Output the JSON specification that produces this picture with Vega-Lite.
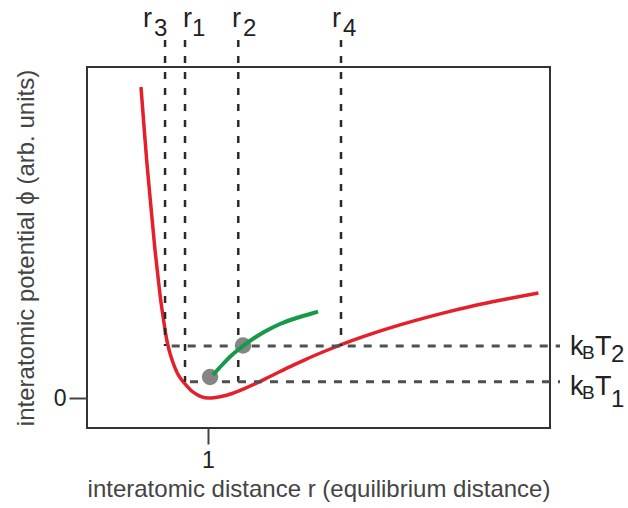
{
  "$schema": "https://vega.github.io/schema/vega-lite/v6.json",
  "width": 463,
  "height": 361,
  "autosize": {"type": "none"},
  "padding": {"left": 87, "top": 67, "right": 78, "bottom": 80},
  "background": "white",
  "config": {
    "view": {"stroke": "#333333", "strokeWidth": 2},
    "font": "Liberation Sans",
    "axis": {
      "grid": false,
      "domain": false,
      "tickColor": "#444444",
      "tickWidth": 2,
      "labelColor": "#222222",
      "labelFont": "Liberation Sans",
      "labelFontSize": 23,
      "titleColor": "#444444",
      "titleFont": "Liberation Sans",
      "titleFontSize": 24,
      "titleFontWeight": "normal"
    }
  },
  "datasets": {
    "curves": [
      {"series": "potential", "r": 0.446, "phi": 3.11},
      {"series": "potential", "r": 0.469, "phi": 2.75},
      {"series": "potential", "r": 0.493, "phi": 2.38},
      {"series": "potential", "r": 0.527, "phi": 1.93},
      {"series": "potential", "r": 0.562, "phi": 1.48},
      {"series": "potential", "r": 0.585, "phi": 1.23},
      {"series": "potential", "r": 0.609, "phi": 0.98},
      {"series": "potential", "r": 0.631, "phi": 0.795},
      {"series": "potential", "r": 0.649, "phi": 0.65},
      {"series": "potential", "r": 0.668, "phi": 0.53},
      {"series": "potential", "r": 0.69, "phi": 0.43},
      {"series": "potential", "r": 0.715, "phi": 0.34},
      {"series": "potential", "r": 0.746, "phi": 0.25},
      {"series": "potential", "r": 0.783, "phi": 0.18},
      {"series": "potential", "r": 0.822, "phi": 0.125},
      {"series": "potential", "r": 0.865, "phi": 0.07},
      {"series": "potential", "r": 0.907, "phi": 0.035},
      {"series": "potential", "r": 0.948, "phi": 0.012},
      {"series": "potential", "r": 1.0, "phi": 0.0},
      {"series": "potential", "r": 1.05, "phi": 0.003},
      {"series": "potential", "r": 1.1, "phi": 0.012},
      {"series": "potential", "r": 1.2, "phi": 0.045},
      {"series": "potential", "r": 1.3, "phi": 0.093},
      {"series": "potential", "r": 1.4, "phi": 0.148},
      {"series": "potential", "r": 1.5, "phi": 0.207},
      {"series": "potential", "r": 1.6, "phi": 0.267},
      {"series": "potential", "r": 1.7, "phi": 0.326},
      {"series": "potential", "r": 1.8, "phi": 0.382},
      {"series": "potential", "r": 1.9, "phi": 0.435},
      {"series": "potential", "r": 2.0, "phi": 0.485},
      {"series": "potential", "r": 2.2, "phi": 0.578},
      {"series": "potential", "r": 2.4, "phi": 0.661},
      {"series": "potential", "r": 2.6, "phi": 0.736},
      {"series": "potential", "r": 2.8, "phi": 0.804},
      {"series": "potential", "r": 3.0, "phi": 0.866},
      {"series": "potential", "r": 3.25, "phi": 0.937},
      {"series": "potential", "r": 3.5, "phi": 0.998},
      {"series": "potential", "r": 3.73, "phi": 1.05}
    ],
    "mean": [
      {"r": 1.041, "phi": 0.23},
      {"r": 1.116, "phi": 0.33},
      {"r": 1.198, "phi": 0.43},
      {"r": 1.289, "phi": 0.52},
      {"r": 1.388, "phi": 0.605},
      {"r": 1.471, "phi": 0.665},
      {"r": 1.595, "phi": 0.74},
      {"r": 1.719, "phi": 0.795},
      {"r": 1.843, "phi": 0.84},
      {"r": 1.909, "phi": 0.863}
    ],
    "dots": [
      {"r": 1.017, "phi": 0.21},
      {"r": 1.289, "phi": 0.525}
    ],
    "vlines": [
      {"name": "r3", "r": 0.645, "top": 3.58, "bottom": 0.52},
      {"name": "r1", "r": 0.81, "top": 3.58, "bottom": 0.163},
      {"name": "r2", "r": 1.25, "top": 3.58, "bottom": 0.163},
      {"name": "r4", "r": 2.099, "top": 3.58, "bottom": 0.52}
    ],
    "hlines": [
      {"name": "kBT2", "r_start": 0.7, "r_end": 3.909, "phi": 0.52},
      {"name": "kBT1", "r_start": 0.851, "r_end": 3.909, "phi": 0.163}
    ],
    "labels": [
      {"glyph": "r", "role": "main", "r": 0.463, "phi": 3.71},
      {"glyph": "3", "role": "digit", "r": 0.554, "phi": 3.62},
      {"glyph": "r", "role": "main", "r": 0.793, "phi": 3.71},
      {"glyph": "1", "role": "digit", "r": 0.868, "phi": 3.62},
      {"glyph": "r", "role": "main", "r": 1.198, "phi": 3.71},
      {"glyph": "2", "role": "digit", "r": 1.289, "phi": 3.62},
      {"glyph": "r", "role": "main", "r": 2.025, "phi": 3.71},
      {"glyph": "4", "role": "digit", "r": 2.116, "phi": 3.62},
      {"glyph": "k", "role": "main", "r": 3.992, "phi": 0.43},
      {"glyph": "B", "role": "letter", "r": 4.091, "phi": 0.39},
      {"glyph": "T", "role": "main", "r": 4.198, "phi": 0.43},
      {"glyph": "2", "role": "digit", "r": 4.33, "phi": 0.36},
      {"glyph": "k", "role": "main", "r": 3.992, "phi": 0.03},
      {"glyph": "B", "role": "letter", "r": 4.091, "phi": -0.01},
      {"glyph": "T", "role": "main", "r": 4.198, "phi": 0.03},
      {"glyph": "1", "role": "digit", "r": 4.33, "phi": -0.09}
    ]
  },
  "encoding": {
    "x": {
      "field": "r",
      "type": "quantitative",
      "scale": {"domain": [0, 3.826], "nice": false, "zero": false},
      "axis": {
        "title": "interatomic distance r (equilibrium distance)",
        "values": [1],
        "tickSize": 16,
        "labelPadding": 5,
        "titlePadding": 5
      }
    },
    "y": {
      "field": "phi",
      "type": "quantitative",
      "scale": {"domain": [-0.3, 3.31], "nice": false, "zero": false},
      "axis": {
        "title": "interatomic potential ϕ (arb. units)",
        "values": [0],
        "tickSize": 18,
        "labelPadding": 3,
        "titlePadding": 15
      }
    }
  },
  "layer": [
    {
      "data": {"name": "curves"},
      "mark": {"type": "line", "color": "#e3202c", "strokeWidth": 3.5, "interpolate": "monotone", "clip": false},
      "encoding": {"detail": {"field": "series"}}
    },
    {
      "data": {"name": "vlines"},
      "mark": {"type": "rule", "color": "#2a2a2a", "strokeWidth": 2.5, "strokeDash": [7, 9], "clip": false},
      "encoding": {
        "y": {"field": "top", "type": "quantitative"},
        "y2": {"field": "bottom"}
      }
    },
    {
      "data": {"name": "hlines"},
      "mark": {"type": "rule", "color": "#505050", "strokeWidth": 3, "strokeDash": [8, 8], "clip": false},
      "encoding": {
        "x": {"field": "r_start", "type": "quantitative"},
        "x2": {"field": "r_end"}
      }
    },
    {
      "data": {"name": "dots"},
      "mark": {"type": "circle", "color": "#858585", "opacity": 1, "size": 270, "clip": false},
      "encoding": {}
    },
    {
      "data": {"name": "mean"},
      "mark": {"type": "line", "color": "#17994a", "strokeWidth": 4, "interpolate": "monotone", "clip": false},
      "encoding": {}
    },
    {
      "data": {"name": "labels"},
      "transform": [{"filter": "datum.role === 'main'"}],
      "mark": {"type": "text", "align": "left", "baseline": "alphabetic", "color": "#222222", "font": "Liberation Sans", "fontSize": 27, "clip": false},
      "encoding": {"text": {"field": "glyph"}}
    },
    {
      "data": {"name": "labels"},
      "transform": [{"filter": "datum.role === 'letter'"}],
      "mark": {"type": "text", "align": "left", "baseline": "alphabetic", "color": "#222222", "font": "Liberation Sans", "fontSize": 19, "clip": false},
      "encoding": {"text": {"field": "glyph"}}
    },
    {
      "data": {"name": "labels"},
      "transform": [{"filter": "datum.role === 'digit'"}],
      "mark": {"type": "text", "align": "left", "baseline": "alphabetic", "color": "#222222", "font": "Liberation Sans", "fontSize": 24, "clip": false},
      "encoding": {"text": {"field": "glyph"}}
    }
  ]
}
